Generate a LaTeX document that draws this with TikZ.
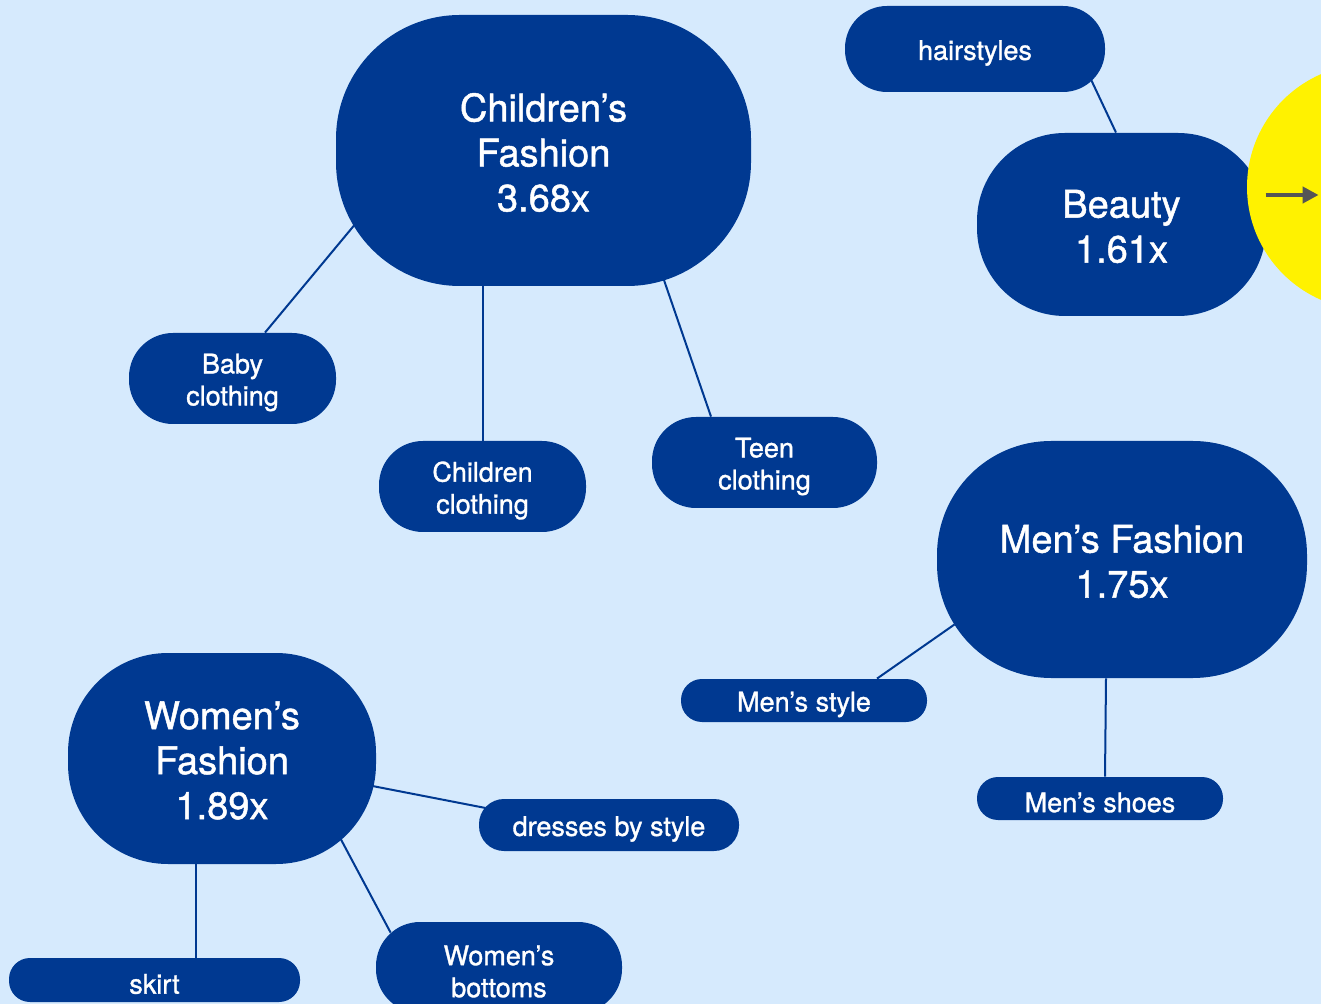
\documentclass[tikz,border=0pt]{standalone}
\usepackage{fontspec}
\setmainfont{TeX Gyre Heros}[BoldFont=TeX Gyre Heros, BoldFeatures={FakeBold=1.2}]
\usetikzlibrary{positioning,calc,arrows.meta}
\definecolor{bgblue}{RGB}{214,234,253}
\definecolor{navy}{RGB}{0,57,145}
\definecolor{arrowgray}{RGB}{85,85,85}
\tikzset{
    treenode/.style={inner sep=0pt, fill=navy},
    node_text/.style={align=center, inner sep=0pt, text=white},
    % Category Node
    node_cat/.style = {treenode, label={[node_text, yshift=-1pt, font=\bfseries\fontsize{19}{22.5}\selectfont]center:#1}},
    % Subcategory Node
    node_sub/.style = {treenode, label={[node_text, yshift=-2pt, font=\bfseries\fontsize{13.5}{16}\selectfont]center:#1}},
    link/.style = {navy, line width=1pt}
}

\begin{document}
\begin{tikzpicture}[x=0.5pt, y=-0.5pt]

    \clip (0,0) rectangle (1321,1004);
    \fill[bgblue] (0,0) rectangle (1321,1004);

    % categories
    \node[node_cat={Children’s\\Fashion\\3.68x}, minimum width=207.5pt, minimum height=135.5pt, rounded corners=62pt] (cf) at (543.5,150.5) {};
    \node[node_cat={Beauty\\1.61x}, minimum width=144.5pt, minimum height=91.5pt, rounded corners=44pt] (beauty) at (1121.5,224.5) {};
    \node[node_cat={Men’s Fashion\\1.75x}, minimum width=185pt, minimum height=118.5pt, rounded corners=57pt] (mf) at (1122,559.5) {};
    \node[node_cat={Women’s\\Fashion\\1.89x}, minimum width=154pt, minimum height=105.5pt, rounded corners=50pt] (wf) at (222,758.5) {};

    % subcategories
    \node[node_sub={hairstyles}, minimum width=130pt, minimum height=43pt, rounded corners=21pt] (hair) at (975,49) {};
    \node[node_sub={Baby\\clothing}, minimum width=103.5pt, minimum height=45.5pt, rounded corners=22pt] (baby) at (232.5,378.5) {};
    \node[node_sub={Children\\clothing}, minimum width=103.5pt, minimum height=45.5pt, rounded corners=22pt] (chcl) at (482.5,486.5) {};
    \node[node_sub={Teen\\clothing}, minimum width=112.5pt, minimum height=45.5pt, rounded corners=22pt] (teen) at (764.5,462.5) {};
    \node[node_sub={Men’s style}, minimum width=123pt, minimum height=21.5pt, rounded corners=10.5pt] (mstyle) at (804,700.5) {};
    \node[node_sub={Men’s shoes}, minimum width=123pt, minimum height=21.5pt, rounded corners=10.5pt] (mshoes) at (1100,798.5) {};
    \node[node_sub={dresses by style}, minimum width=130pt, minimum height=26pt, rounded corners=12.5pt] (dress) at (609,825) {};
    \node[node_sub={skirt}, minimum width=145.5pt, minimum height=22pt, rounded corners=10.5pt] (skirt) at (154.5,980) {};
    \node[node_sub={Women’s\\bottoms}, minimum width=123pt, minimum height=45.5pt, rounded corners=22pt] (wbot) at (499,967.5) {};

    % next page
    \node[circle, fill=yellow, minimum size=123pt, inner sep=0pt] (next) at (1370,187) {};
    \draw[-{Triangle[length=8pt,width=8pt]}, arrowgray, line width=2pt] ($(next.west)+(19,8)$) -- ($(next.west)+(72,8)$);

    \draw[link] ($(cf.south west)+(21,-64)$) -- ($(baby.north)+(32.5,0)$);
    \draw[link] (chcl.north) -- (chcl.north |- cf.south);
    \draw[link] ($(cf.south east)+(-88,-8)$) -- ($(teen.north)+(-53.5,0)$);
    \draw[link] ($(hair.south east)+(-14,-12)$) -- ($(beauty.north)+(-5.5,0)$);
    \draw[link] ($(mf.south west)+(18,-54)$) -- ($(mstyle.north)+(73,0)$);
    \draw[link] ($(mf.south)+(-16,0)$) -- ($(mshoes.north)+(5,0)$);
    \draw[link] ($(wf.east)+(-4,27.5)$) -- ($(dress.west)+(7,-17)$);
    \draw[link] ($(wf.south east)+(-36,-26)$) -- ($(wbot.north west)+(15,11)$);
    \draw[link] ($(skirt.north)+(41.5,0)$) -- ($(wf.south)+(-26,0)$);

\end{tikzpicture}
\end{document}
